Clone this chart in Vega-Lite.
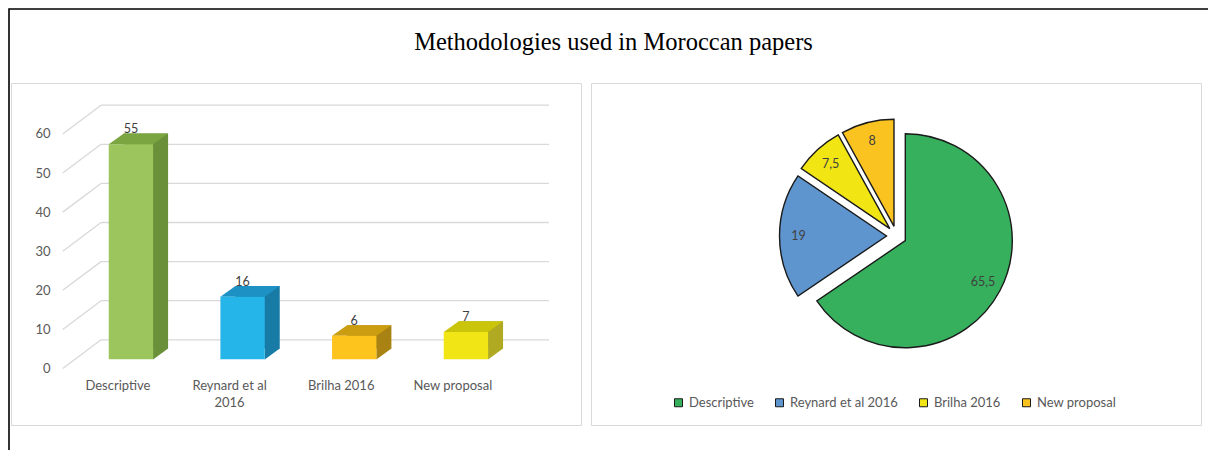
{
  "$schema": "https://vega.github.io/schema/vega-lite/v6.json",
  "padding": {"left": 8, "top": 8, "right": 0, "bottom": 0},
  "background": "white",
  "config": {
    "view": {"stroke": "#d9d9d9", "strokeWidth": 1},
    "axis": {"labelFont": "Lato", "labelFontSize": 13, "labelColor": "#595959", "domain": false, "ticks": false, "grid": false},
    "text": {"font": "Lato"}
  },
  "datasets": {
    "bars": [
      {"method": "Descriptive", "value": 55},
      {"method": "Reynard et al 2016", "value": 16},
      {"method": "Brilha 2016", "value": 6},
      {"method": "New proposal", "value": 7}
    ],
    "pie": [
      {"method": "Descriptive", "value": 65.5},
      {"method": "Reynard et al 2016", "value": 19},
      {"method": "Brilha 2016", "value": 7.5},
      {"method": "New proposal", "value": 8}
    ],
    "grid": [{"v": 0}, {"v": 10}, {"v": 20}, {"v": 30}, {"v": 40}, {"v": 50}, {"v": 60}]
  },
  "spacing": 0,
  "bounds": "flush",
  "resolve": {"scale": {"color": "independent"}},
  "vconcat": [
    {
      "width": 1199,
      "height": 74,
      "data": {"values": [{}]},
      "view": {"stroke": "#000", "strokeWidth": 1.6, "strokeDash": [1199, 1273, 74]},
      "mark": {"type": "text", "text": "Methodologies used in Moroccan papers", "font": "Liberation Serif", "fontSize": 24.5, "color": "#000", "baseline": "alphabetic", "dx": 5, "dy": 4},
      "encoding": {}
    },
    {
      "spacing": 1,
      "bounds": "flush",
      "resolve": {"scale": {"color": "independent"}},
      "hconcat": [
        {
          "width": 1,
          "height": 367,
          "data": {"values": []},
          "view": {"stroke": "#000", "strokeWidth": 1.6, "strokeDash": [0, 369, 367]},
          "mark": {"type": "point", "opacity": 0},
          "encoding": {}
        },
        {
          "width": 570,
          "height": 342,
          "data": {"name": "bars"},
          "resolve": {"scale": {"color": "independent"}},
          "layer": [
            {
              "data": {"name": "grid"},
              "mark": {"type": "rule", "color": "#d9d9d9", "strokeWidth": 1.3, "xOffset": -29.9, "x2Offset": 83.1, "yOffset": -19.5},
              "encoding": {
                "x": {"datum": "Descriptive", "type": "nominal", "title": null, "scale": {"type": "band", "domain": ["Descriptive", "Reynard et al 2016", "Brilha 2016", "New proposal"], "paddingInner": 0.603, "paddingOuter": 0.854, "align": 0.5126}},
                "x2": {"datum": "New proposal"},
                "y": {"field": "v", "type": "quantitative", "title": null, "scale": {"domain": [-16.8, 70.67], "nice": false, "zero": false}}
              }
            },
            {
              "data": {"name": "grid"},
              "mark": {"type": "rule", "color": "#d9d9d9", "strokeWidth": 1.3, "xOffset": -68.2, "x2Offset": -29.9, "yOffset": 9.2, "y2Offset": -19.5},
              "encoding": {
                "x": {"datum": "Descriptive", "type": "nominal", "title": null},
                "x2": {"datum": "Descriptive"},
                "y": {"field": "v", "type": "quantitative", "title": null},
                "y2": {"field": "v"}
              }
            },
            {
              "mark": {"type": "bar", "xOffset": 15, "x2Offset": 15, "yOffset": -10.7, "y2Offset": -10.7},
              "encoding": {
                "x": {"field": "method", "type": "nominal", "title": null},
                "y": {"field": "value", "type": "quantitative", "title": null},
                "color": {"field": "method", "type": "nominal", "legend": null, "scale": {"domain": ["Descriptive", "Reynard et al 2016", "Brilha 2016", "New proposal"], "range": ["#6a913a", "#177ba6", "#a88314", "#b0aa22"]}}
              }
            },
            {
              "mark": {"type": "point", "shape": "M22.15,0.3L22.15,-11.3L37.15,-11.3L37.15,-10.7Z", "size": 4, "filled": true, "opacity": 1, "strokeWidth": 0},
              "encoding": {
                "x": {"field": "method", "type": "nominal", "title": null},
                "y": {"datum": 0, "type": "quantitative", "title": null},
                "color": {"field": "method", "type": "nominal", "legend": null, "scale": {"domain": ["Descriptive", "Reynard et al 2016", "Brilha 2016", "New proposal"], "range": ["#6a913a", "#177ba6", "#a88314", "#b0aa22"]}}
              }
            },
            {
              "mark": {"type": "point", "shape": "M-22.15,0L22.15,0L37.15,-10.7L-7.15,-10.7Z", "size": 4, "filled": true, "opacity": 1, "strokeWidth": 0},
              "encoding": {
                "x": {"field": "method", "type": "nominal", "title": null},
                "y": {"field": "value", "type": "quantitative", "title": null},
                "color": {"field": "method", "type": "nominal", "legend": null, "scale": {"domain": ["Descriptive", "Reynard et al 2016", "Brilha 2016", "New proposal"], "range": ["#7ba541", "#1d91c4", "#cb9e12", "#cac50b"]}}
              }
            },
            {
              "mark": {"type": "bar"},
              "encoding": {
                "x": {"field": "method", "type": "nominal", "title": null, "axis": {"offset": -46, "labelOffset": -13, "labelPadding": 0, "labelAngle": 0, "labelAlign": "center", "labelBaseline": "top", "labelLineHeight": 17, "labelExpr": "datum.label == 'Reynard et al 2016' ? ['Reynard et al', '2016'] : datum.label"}},
                "y": {"field": "value", "type": "quantitative", "title": null, "axis": {"values": [0, 10, 20, 30, 40, 50, 60], "offset": -41, "labelOffset": 9.2, "labelPadding": 2}},
                "color": {"field": "method", "type": "nominal", "legend": null, "scale": {"domain": ["Descriptive", "Reynard et al 2016", "Brilha 2016", "New proposal"], "range": ["#9cc65d", "#26b5e8", "#fcc41c", "#f1e516"]}}
              }
            },
            {
              "mark": {"type": "text", "dy": -15, "fontSize": 12.5, "color": "#404040"},
              "encoding": {
                "x": {"field": "method", "type": "nominal", "title": null},
                "y": {"field": "value", "type": "quantitative", "title": null},
                "text": {"field": "value", "type": "quantitative"}
              }
            }
          ]
        },
        {
          "width": 8,
          "height": 10,
          "data": {"values": []},
          "view": {"stroke": null},
          "mark": {"type": "point", "opacity": 0},
          "encoding": {}
        },
        {
          "width": 610,
          "height": 342,
          "data": {"name": "pie"},
          "view": {"stroke": "#d9d9d9", "strokeWidth": 1},
          "transform": [
            {"window": [{"op": "sum", "field": "value", "as": "v1"}], "frame": [null, 0]},
            {"calculate": "datum.v1 - datum.value", "as": "v0"},
            {"calculate": "datum.v1 - datum.value / 2", "as": "mid"},
            {"calculate": "replace(toString(datum.value), '.', ',')", "as": "label"}
          ],
          "layer": [
            {
              "data": {"values": []},
              "mark": {"type": "point", "opacity": 0},
              "encoding": {
                "x": {"field": "a", "type": "quantitative", "axis": null},
                "y": {"field": "b", "type": "quantitative", "axis": null}
              }
            },
            {
              "transform": [{"filter": "datum.method == 'Descriptive'"}],
              "layer": [
                {
                  "mark": {"type": "arc", "outerRadius": 107, "stroke": "#1a1a1a", "strokeWidth": 1.4, "xOffset": 9.3, "yOffset": -13.3},
                  "encoding": {
                    "theta": {"field": "v0", "type": "quantitative", "scale": {"domain": [0, 100]}},
                    "theta2": {"field": "v1"},
                    "color": {"field": "method", "type": "nominal", "scale": {"domain": ["Descriptive", "Reynard et al 2016", "Brilha 2016", "New proposal"], "range": ["#37b05e", "#5e95cf", "#f1e513", "#fbc31f"]},
                      "legend": {"orient": "none", "legendX": 81, "legendY": 313, "direction": "horizontal", "title": null, "symbolType": "square", "symbolSize": 64, "symbolStrokeColor": "#404040", "symbolStrokeWidth": 1, "labelFont": "Lato", "labelFontSize": 13, "labelColor": "#595959", "columnPadding": 19, "labelOffset": 4, "padding": 0}}
                  }
                },
                {
                  "mark": {"type": "text", "radius": 88, "xOffset": 9.3, "yOffset": -13.3, "fontSize": 12.5, "color": "#404040"},
                  "encoding": {
                    "theta": {"field": "mid", "type": "quantitative", "stack": null, "scale": {"domain": [0, 100]}},
                    "text": {"field": "label", "type": "nominal"}
                  }
                }
              ]
            },
            {
              "transform": [{"filter": "datum.method == 'Reynard et al 2016'"}],
              "layer": [
                {
                  "mark": {"type": "arc", "outerRadius": 107, "stroke": "#1a1a1a", "strokeWidth": 1.4, "xOffset": -9.5, "yOffset": -18},
                  "encoding": {
                    "theta": {"field": "v0", "type": "quantitative", "scale": {"domain": [0, 100]}},
                    "theta2": {"field": "v1"},
                    "color": {"field": "method", "type": "nominal", "scale": {"domain": ["Descriptive", "Reynard et al 2016", "Brilha 2016", "New proposal"], "range": ["#37b05e", "#5e95cf", "#f1e513", "#fbc31f"]}}
                  }
                },
                {
                  "mark": {"type": "text", "radius": 88, "xOffset": -9.5, "yOffset": -18, "fontSize": 12.5, "color": "#404040"},
                  "encoding": {
                    "theta": {"field": "mid", "type": "quantitative", "stack": null, "scale": {"domain": [0, 100]}},
                    "text": {"field": "label", "type": "nominal"}
                  }
                }
              ]
            },
            {
              "transform": [{"filter": "datum.method == 'Brilha 2016'"}],
              "layer": [
                {
                  "mark": {"type": "arc", "outerRadius": 107, "stroke": "#1a1a1a", "strokeWidth": 1.4, "xOffset": -6.2, "yOffset": -25.4},
                  "encoding": {
                    "theta": {"field": "v0", "type": "quantitative", "scale": {"domain": [0, 100]}},
                    "theta2": {"field": "v1"},
                    "color": {"field": "method", "type": "nominal", "scale": {"domain": ["Descriptive", "Reynard et al 2016", "Brilha 2016", "New proposal"], "range": ["#37b05e", "#5e95cf", "#f1e513", "#fbc31f"]}}
                  }
                },
                {
                  "mark": {"type": "text", "radius": 88, "xOffset": -6.2, "yOffset": -25.4, "fontSize": 12.5, "color": "#404040"},
                  "encoding": {
                    "theta": {"field": "mid", "type": "quantitative", "stack": null, "scale": {"domain": [0, 100]}},
                    "text": {"field": "label", "type": "nominal"}
                  }
                }
              ]
            },
            {
              "transform": [{"filter": "datum.method == 'New proposal'"}],
              "layer": [
                {
                  "mark": {"type": "arc", "outerRadius": 107, "stroke": "#1a1a1a", "strokeWidth": 1.4, "xOffset": -2.0, "yOffset": -27.7},
                  "encoding": {
                    "theta": {"field": "v0", "type": "quantitative", "scale": {"domain": [0, 100]}},
                    "theta2": {"field": "v1"},
                    "color": {"field": "method", "type": "nominal", "scale": {"domain": ["Descriptive", "Reynard et al 2016", "Brilha 2016", "New proposal"], "range": ["#37b05e", "#5e95cf", "#f1e513", "#fbc31f"]}}
                  }
                },
                {
                  "mark": {"type": "text", "radius": 88, "xOffset": -2.0, "yOffset": -27.7, "fontSize": 12.5, "color": "#404040"},
                  "encoding": {
                    "theta": {"field": "mid", "type": "quantitative", "stack": null, "scale": {"domain": [0, 100]}},
                    "text": {"field": "label", "type": "nominal"}
                  }
                }
              ]
            }
          ]
        }
      ]
    }
  ]
}
